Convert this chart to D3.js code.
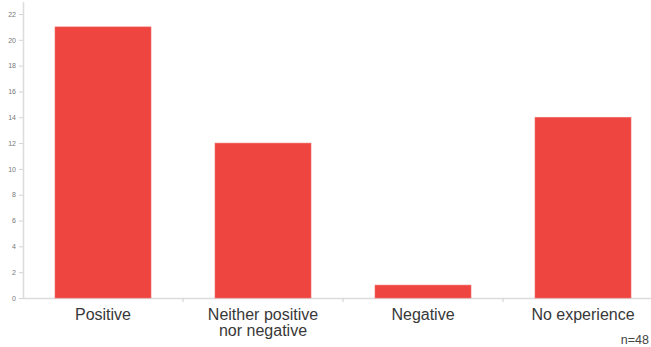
<!DOCTYPE html>
<html>
<head>
<meta charset="utf-8">
<script src="https://cdn.jsdelivr.net/npm/d3@7"></script>
<style>
  html, body { margin: 0; padding: 0; background: #fff; }
  svg { display: block; }
</style>
</head>
<body>
<svg id="chart" width="651" height="347"></svg>
<script>
// Responses per category
const categories = [["Positive"], ["Neither positive", "nor negative"], ["Negative"], ["No experience"]];
const values = [21, 12, 1, 14];
const yTicks = [0, 2, 4, 6, 8, 10, 12, 14, 16, 18, 20, 22];
const note = "n=48";

const W = 651, H = 347;
const svg = d3.select("#chart");
const keys = categories.map((c, i) => i);

const x = d3.scaleBand().domain(keys).range([23, 663]).paddingInner(0.4).paddingOuter(0.2);
const y = d3.scaleLinear().domain([0, 22]).range([298, 14]);

// Y axis
const yAxis = svg.append("g").attr("transform", "translate(23,0)")
  .call(d3.axisLeft(y).tickValues(yTicks).tickSize(4).tickPadding(3));
yAxis.select(".domain").remove();
yAxis.selectAll(".tick line").attr("stroke", "#d4d4d4");
yAxis.selectAll(".tick text").attr("fill", "#777").style("font-family", "Liberation Sans, Arial, sans-serif").style("font-size", "7px");
svg.append("line").attr("x1", 23.5).attr("x2", 23.5).attr("y1", 2).attr("y2", y(0))
  .attr("stroke", "#dcdcdc").attr("stroke-width", 1.5);

// X axis baseline with ticks between bands
svg.append("line").attr("x1", 23).attr("x2", W).attr("y1", y(0) + 0.5).attr("y2", y(0) + 0.5)
  .attr("stroke", "#dcdcdc").attr("stroke-width", 1.5);
svg.append("g").selectAll("line").data(keys.slice(1)).join("line")
  .attr("x1", d => x(d) - x.step() * x.paddingInner() / 2)
  .attr("x2", d => x(d) - x.step() * x.paddingInner() / 2)
  .attr("y1", y(0)).attr("y2", y(0) + 4)
  .attr("stroke", "#cfcfcf");

// Bars
svg.append("g").selectAll("rect").data(values).join("rect")
  .attr("x", (d, i) => x(i))
  .attr("y", d => y(d))
  .attr("width", x.bandwidth())
  .attr("height", d => y(0) - y(d))
  .attr("fill", "#ee4540")
  .attr("stroke", "#f26d68")
  .attr("stroke-width", 0.6);

// Category labels
const lbl = svg.append("g").selectAll("text").data(categories).join("text")
  .attr("x", (d, i) => x(i) + x.bandwidth() / 2)
  .attr("y", 320)
  .attr("text-anchor", "middle")
  .attr("fill", "#383838")
  .style("font-family", "Liberation Sans, Arial, sans-serif")
  .style("font-size", "16px");
lbl.selectAll("tspan").data(d => d).join("tspan")
  .attr("x", function () { return d3.select(this.parentNode).attr("x"); })
  .attr("dy", (d, i) => i === 0 ? 0 : 15.5)
  .text(d => d);

// Sample size note
svg.append("text").attr("x", 649).attr("y", 344).attr("text-anchor", "end")
  .attr("fill", "#444")
  .style("font-family", "Liberation Sans, Arial, sans-serif")
  .style("font-size", "12.5px")
  .text(note);
</script>
</body>
</html>
